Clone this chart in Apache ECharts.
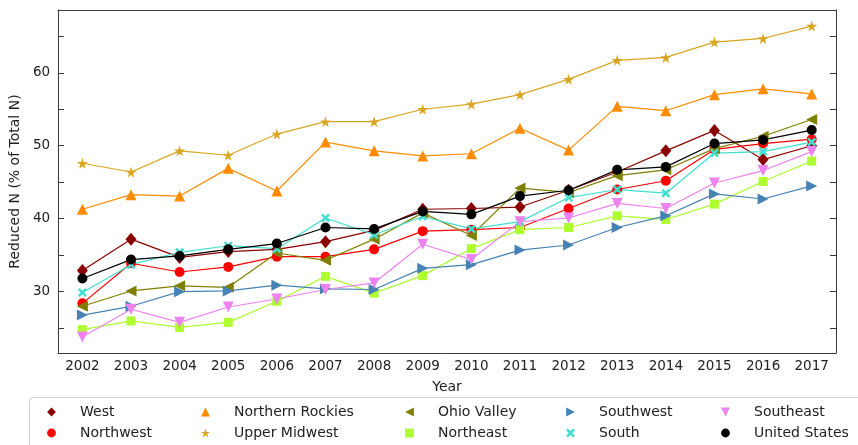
<!DOCTYPE html>
<html>
<head>
<meta charset="utf-8">
<script src="https://cdn.jsdelivr.net/npm/echarts@6/dist/echarts.min.js"></script>
<style>
  html, body { margin: 0; padding: 0; background: #fff; }
  #chart { width: 858px; height: 445px; }
</style>
</head>
<body>
<div id="chart"></div>
<script>
var years = ['2002', '2003', '2004', '2005', '2006', '2007', '2008', '2009',
             '2010', '2011', '2012', '2013', '2014', '2015', '2016', '2017'];

var west = [32.9, 37.2, 34.7, 35.5, 35.8, 36.85, 38.4, 41.3, 41.4, 41.6, 43.9, 46.4, 49.3, 52.1, 48.1, 50.0];
var northwest = [28.4, 33.9, 32.7, 33.4, 34.8, 34.8, 35.8, 38.3, 38.5, 38.8, 41.4, 44.0, 45.2, 49.5, 50.3, 50.9];
var northernRockies = [41.3, 43.3, 43.1, 46.9, 43.8, 50.5, 49.3, 48.6, 48.9, 52.4, 49.4, 55.4, 54.8, 57.0, 57.8, 57.1];
var upperMidwest = [47.6, 46.4, 49.3, 48.7, 51.6, 53.3, 53.3, 55.0, 55.7, 57.0, 59.1, 61.7, 62.1, 64.2, 64.7, 66.4];
var ohioValley = [28.0, 30.1, 30.8, 30.6, 35.3, 34.3, 37.2, 40.8, 37.7, 44.2, 43.6, 45.9, 46.7, 49.6, 51.3, 53.6];
var northeast = [24.8, 26.0, 25.1, 25.8, 28.7, 32.1, 29.8, 32.2, 35.9, 38.5, 38.8, 40.4, 39.9, 42.0, 45.1, 47.9];
var southwest = [26.8, 28.0, 30.0, 30.1, 30.9, 30.4, 30.3, 33.2, 33.7, 35.7, 36.4, 38.8, 40.4, 43.4, 42.7, 44.5];
var south = [29.9, 33.7, 35.4, 36.3, 35.9, 40.1, 37.8, 40.3, 38.6, 39.6, 42.9, 44.0, 43.5, 49.0, 49.2, 50.5];
var southeast = [23.8, 27.6, 25.8, 27.9, 29.0, 30.3, 31.2, 36.5, 34.4, 39.6, 40.1, 42.1, 41.4, 44.9, 46.6, 49.2];
var unitedStates = [31.8, 34.4, 34.9, 35.8, 36.6, 38.8, 38.6, 41.0, 40.6, 43.1, 43.9, 46.7, 47.1, 50.3, 50.8, 52.15];

var STAR = 'path://M50,0 L61,35 L98,35 L68,57 L79,91 L50,70 L21,91 L32,57 L2,35 L39,35 Z';
var XMARK = 'path://M20,0 L50,30 L80,0 L100,20 L70,50 L100,80 L80,100 L50,70 L20,100 L0,80 L30,50 L0,20 Z';

function line(name, data, color, symbol, size, rotate) {
    return {
        name: name,
        type: 'line',
        data: data,
        symbol: symbol,
        symbolSize: size,
        symbolRotate: rotate || 0,
        itemStyle: { color: color },
        lineStyle: { color: color, width: 1.2 },
        emphasis: { disabled: true },
        animation: false
    };
}

var font = 'DejaVu Sans';
var axisColor = '#3a3a3a';

// one legend per entry, so the 2x5 block sits where matplotlib put it
function legendItem(name, left, top) {
    return {
        left: left,
        top: top,
        padding: 0,
        itemWidth: 11,
        itemHeight: 11,
        lineStyle: { opacity: 0 },
        textStyle: { fontFamily: font, fontSize: 14, color: '#222', padding: [0, 0, 0, 18] },
        data: [name]
    };
}

var colLeft = [45, 199, 403, 564, 719];
var rowTop = [405, 426];

var chart = echarts.init(document.getElementById('chart'));

chart.setOption({
    animation: false,
    grid: { left: 56, right: 22, top: 10, bottom: 92 },
    graphic: [{
        type: 'rect',
        left: 29, top: 397,
        shape: { width: 840, height: 60, r: 4 },
        style: { fill: '#fff', stroke: '#d0d0d0', lineWidth: 1 },
        z: -1
    }],
    legend: [
        legendItem('West', colLeft[0], rowTop[0]),
        legendItem('Northwest', colLeft[0], rowTop[1]),
        legendItem('Northern Rockies', colLeft[1], rowTop[0]),
        legendItem('Upper Midwest', colLeft[1], rowTop[1]),
        legendItem('Ohio Valley', colLeft[2], rowTop[0]),
        legendItem('Northeast', colLeft[2], rowTop[1]),
        legendItem('Southwest', colLeft[3], rowTop[0]),
        legendItem('South', colLeft[3], rowTop[1]),
        legendItem('Southeast', colLeft[4], rowTop[0]),
        legendItem('United States', colLeft[4], rowTop[1])
    ],
    xAxis: [{
        type: 'category',
        data: years,
        boundaryGap: true,
        name: 'Year',
        nameLocation: 'middle',
        nameGap: 27,
        nameTextStyle: { fontFamily: font, fontSize: 14, color: '#222' },
        axisLine: { lineStyle: { color: axisColor, width: 1 } },
        axisTick: { inside: true, alignWithLabel: true, length: 6, interval: 0, lineStyle: { color: axisColor } },
        axisLabel: { fontFamily: font, fontSize: 13.5, color: '#222', margin: 6, interval: 0 },
        splitLine: { show: false }
    }, {
        type: 'category',
        data: years,
        position: 'top',
        boundaryGap: true,
        axisLine: { lineStyle: { color: axisColor, width: 1 } },
        axisTick: { inside: true, alignWithLabel: true, length: 6, interval: 0, lineStyle: { color: axisColor } },
        axisLabel: { show: false },
        splitLine: { show: false }
    }],
    yAxis: [{
        type: 'value',
        min: 21.6,
        max: 68.6,
        minInterval: 5,
        maxInterval: 5,
        splitNumber: 9,
        name: 'Reduced N (% of Total N)',
        nameLocation: 'middle',
        nameGap: 35,
        nameTextStyle: { fontFamily: font, fontSize: 14, color: '#222' },
        axisLine: { show: true, lineStyle: { color: axisColor, width: 1 } },
        axisTick: { show: true, inside: true, length: 6, lineStyle: { color: axisColor } },
        axisLabel: {
            fontFamily: font, fontSize: 13.5, color: '#222', margin: 8,
            formatter: function (v) { return Math.abs(v % 10) < 1e-6 ? String(v) : ''; }
        },
        splitLine: { show: false }
    }, {
        type: 'value',
        position: 'right',
        min: 21.6,
        max: 68.6,
        minInterval: 5,
        maxInterval: 5,
        splitNumber: 9,
        axisLine: { show: true, lineStyle: { color: axisColor, width: 1 } },
        axisTick: { show: true, inside: true, length: 6, lineStyle: { color: axisColor } },
        axisLabel: { show: false },
        splitLine: { show: false }
    }],
    series: [
        line('West', west, '#8B0000', 'diamond', [11, 13]),
        line('Northwest', northwest, '#FF0000', 'circle', 10),
        line('Northern Rockies', northernRockies, '#FF8C00', 'triangle', 11),
        line('Upper Midwest', upperMidwest, '#DAA520', STAR, 11),
        line('Ohio Valley', ohioValley, '#808000', 'triangle', 11, 90),
        line('Northeast', northeast, '#ADFF2F', 'rect', 9),
        line('Southwest', southwest, '#4682B4', 'triangle', 11, -90),
        line('South', south, '#40E0D0', XMARK, 9),
        line('Southeast', southeast, '#EE82EE', 'triangle', 11, 180),
        line('United States', unitedStates, '#000000', 'circle', 10)
    ]
});
</script>
</body>
</html>
